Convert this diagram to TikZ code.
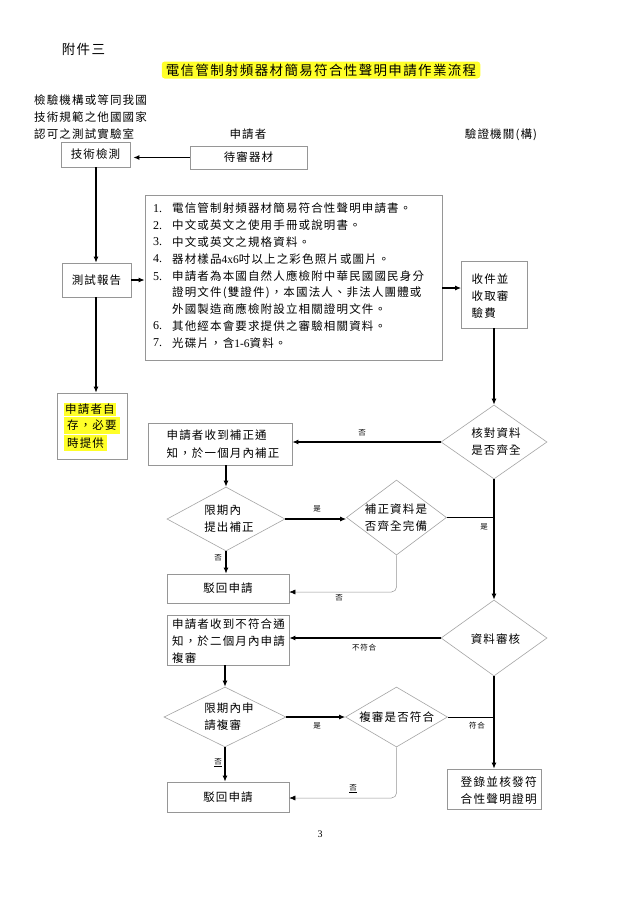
\documentclass[tikz,border=0pt]{standalone}
\usepackage{fontspec}
\setmainfont{Noto Sans CJK TC}[LetterSpace=10]
\newfontfamily\lat{Liberation Serif}
\usetikzlibrary{shapes.geometric,arrows.meta}
\definecolor{boxgray}{RGB}{150,150,150}
\definecolor{diagray}{RGB}{165,165,165}
\definecolor{hl}{RGB}{255,255,40}
\begin{document}
\begin{tikzpicture}[x=1pt,y=-1pt,
  boxn/.style={draw=boxgray, line width=0.7pt, inner sep=0pt, fill=white, font=\fontsize{11.5}{17}\selectfont},
  dia/.style={diamond, draw=diagray, line width=0.6pt, inner sep=0pt},
  txt/.style={inner sep=0pt, align=left, font=\fontsize{11.5}{17}\selectfont},
  num/.style={inner sep=0pt, anchor=west, font=\lat\fontsize{12}{17}\selectfont},
  sm/.style={inner sep=0pt, font=\fontsize{7.5}{9}\selectfont},
  ar/.style={-{Latex[length=6pt,width=5pt]}, line width=1.1pt, black},
  ln/.style={line width=1pt, black},
  thinar/.style={-{Latex[length=6pt,width=5pt,color=black]}, line width=0.5pt, boxgray}]
\fill[white] (0,0) rectangle (640,906);
\useasboundingbox (0,0) rectangle (640,906);

% headings
\node[inner sep=0pt, font=\fontsize{13.5}{16}\selectfont] (att) at (83.5,49) {附件三};
\node[fill=hl, rounded corners=3pt, inner xsep=4pt, inner ysep=0pt, minimum height=17pt,
      font=\fontsize{13.5}{16}\selectfont] (title) at (321,70) {電信管制射頻器材簡易符合性聲明申請作業流程};
\node[txt, anchor=west] (hdrL) at (34,117) {檢驗機構或等同我國\\技術規範之他國國家\\認可之測試實驗室};
\node[txt] (hdrM) at (248,134) {申請者};
\node[txt] (hdrR) at (501,135) {驗證機關(構)};

% boxes
\node[boxn, minimum width=69pt, minimum height=25pt] (tech) at (95.5,154.5) {技術檢測};
\node[boxn, minimum width=117pt, minimum height=23pt] (dut) at (248.5,157.5) {待審器材};
\node[boxn, minimum width=69pt, minimum height=34pt] (report) at (96.5,280) {測試報告};
\node[boxn, minimum width=297pt, minimum height=165pt] (list) at (293.5,277.5) {};
\node[boxn, minimum width=66pt, minimum height=67pt] (fee) at (494.5,294.5) {};
\node[boxn, minimum width=70pt, minimum height=66pt] (self) at (92,426) {};
\node[boxn, minimum width=144pt, minimum height=42pt] (fix) at (220,444) {};
\node[boxn, minimum width=122pt, minimum height=29pt] (rej1) at (228,588.5) {駁回申請};
\node[boxn, minimum width=122pt, minimum height=50pt] (nc) at (228,640) {};
\node[boxn, minimum width=122pt, minimum height=30pt] (rej2) at (228,797) {駁回申請};
\node[boxn, minimum width=94pt, minimum height=40pt] (reg) at (494.5,789) {};

% diamonds
\node[dia, minimum width=106pt, minimum height=74pt] (check) at (494,442) {};
\node[dia, minimum width=118pt, minimum height=64pt] (fixdl) at (226,519) {};
\node[dia, minimum width=100pt, minimum height=75pt] (fixok) at (396.5,517.5) {};
\node[dia, minimum width=106pt, minimum height=76pt] (review) at (494,638) {};
\node[dia, minimum width=122pt, minimum height=60pt] (rvdl) at (225,717) {};
\node[dia, minimum width=102pt, minimum height=60pt] (rvok) at (396.5,717) {};

% list content
\foreach \qi/\qy/\qn in {1/208.5/1., 2/225.2/2., 3/242/3., 4/259/4., 5/276.5/5., 6/326/6., 7/343/7.}{
  \node[num] (n\qi) at (153,\qy) {\qn};
}
\foreach \qi/\qy/\qt in {
  1/208.5/{電信管制射頻器材簡易符合性聲明申請書。},
  2/225.2/{中文或英文之使用手冊或說明書。},
  3/242/{中文或英文之規格資料。},
  4/259/{器材樣品{\lat 4x6}吋以上之彩色照片或圖片。},
  5/276.5/{申請者為本國自然人應檢附中華民國國民身分},
  6/292.8/{證明文件(雙證件)，本國法人、非法人團體或},
  7/309.3/{外國製造商應檢附設立相關證明文件。},
  8/326/{其他經本會要求提供之審驗相關資料。},
  9/343/{光碟片，含{\lat 1-6}資料。}}{
  \node[txt, anchor=west] (t\qi) at (172,\qy) {\qt};
}

% box texts
\node[txt, anchor=west] (feeT) at (471.5,296) {收件並\\收取審\\驗費};
\node[txt, anchor=west, font=\fontsize{11.5}{16}\selectfont] (selfT) at (64,427)
  {\setlength{\fboxsep}{1pt}\colorbox{hl}{申請者自}\\\colorbox{hl}{存，必要}\\\colorbox{hl}{時提供}};
\node[txt, anchor=west, font=\fontsize{11.5}{17.7}\selectfont] (fixT) at (166.5,444) {申請者收到補正通\\知，於一個月內補正};
\node[txt, anchor=west] (ncT) at (172,641.3) {申請者收到不符合通\\知，於二個月內申請\\複審};
\node[txt, anchor=west, font=\fontsize{11.7}{16.7}\selectfont] (regT) at (460.5,790.6) {登錄並核發符\\合性聲明證明};

% diamond texts
\node[txt] (checkT) at (496,442) {核對資料\\是否齊全};
\node[txt] (fixdlT) at (229,518.3) {限期內\\提出補正};
\node[txt] (fixokT) at (396,517.5) {補正資料是\\否齊全完備};
\node[txt] (reviewT) at (495.5,639) {資料審核};
\node[txt] (rvdlT) at (229,716.3) {限期內申\\請複審};
\node[txt] (rvokT) at (396.7,717.5) {複審是否符合};

% connectors
\draw[ar, shorten >=3pt] (dut.west) -- (dut.west -| tech.east);
\draw[ar] (tech.south -| 96,0) -- (report.north -| 96,0);
\draw[ar] (report.east) -- (report.east -| list.west);
\draw[ar] (list.east |- 0,288) -- (fee.west |- 0,288);
\draw[ar] (fee.south -| check.north) -- (check.north);
\draw[ar] (report.south -| 96,0) -- (self.north -| 96,0);
\draw[ar] (check.west) -- (check.west -| fix.east);
\draw[ar] (fixdl.north |- fix.south) -- (fixdl.north);
\draw[ar] (fixdl.east) -- (fixdl.east -| fixok.west);
\draw[ln] (fixok.east) -- (fixok.east -| check.south);
\draw[ar] (check.south) -- (review.north);
\draw[ar] (fixdl.south) -- (fixdl.south |- rej1.north);
\draw[thinar, rounded corners=5pt] (fixok.south) -- (fixok.south |- 0,592) -- (rej1.east |- 0,592);
\draw[ar] (review.west) -- (review.west -| nc.east);
\draw[ar] (rvdl.north |- nc.south) -- (rvdl.north);
\draw[ar] (rvdl.east) -- (rvok.west);
\draw[ln] (rvok.east) -- (rvok.east -| review.south);
\draw[ar] (review.south) -- (review.south |- reg.north);
\draw[ar] (rvdl.south) -- (rvdl.south |- rej2.north);
\draw[thinar, rounded corners=5pt] (rvok.south) -- (rvok.south |- 0,798) -- (rej2.east |- 0,798);

% connector labels
\node[sm] (lbA) at (362,433) {否};
\node[sm] (lbB) at (317,509) {是};
\node[sm] (lbC) at (484,527) {是};
\node[sm] (lbD) at (218,558) {否};
\node[sm] (lbE) at (339,598) {否};
\node[sm] (lbF) at (364,648) {不符合};
\node[sm] (lbG) at (317,726) {是};
\node[sm] (lbH) at (477,726) {符合};
\node[sm] (lbI) at (218,763) {\underline{否}};
\node[sm] (lbJ) at (353,789) {\underline{否}};

\node[inner sep=0pt, font=\lat\fontsize{10}{12}\selectfont] (pg) at (320,834) {3};
\end{tikzpicture}
\end{document}
